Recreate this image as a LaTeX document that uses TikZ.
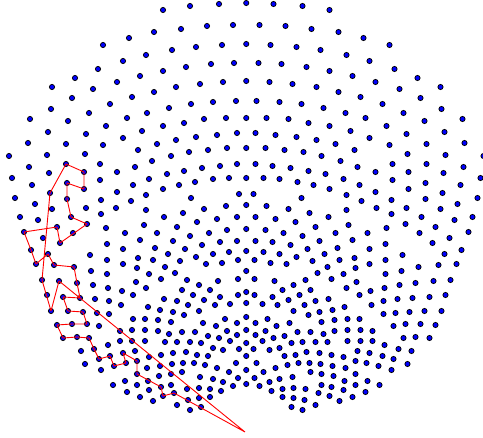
\documentclass[tikz,border=0pt]{standalone}
\begin{document}
\begin{tikzpicture}[x=1pt,y=-1pt]
\tikzset{dot/.style={fill=blue,draw=black,line width=0.75pt},
  tour/.style={draw=red,line width=0.9pt,line join=round}}
\useasboundingbox (0,0) rectangle (483,438);
% axis points
\foreach \y in {3,44,81,118,148,178,205,229,251,271,292,303,317,330,343,356,370,384}
  {\path[dot] (246.25,\y) circle[radius=2.6pt];}
% left half points, mirrored
\foreach \x/\y in {
154/32,129/38,103/45,146/55,123/61,98/69,140/76,75/78,117/82,52/87,93/89,154/92,72/98,132/97,110/104,51/109,89/113,147/113,30/119,68/121,127/118,106/126,48/132,86/134,142/131,123/138,28/143,66/144,103/145,157/144,
163/10,190/6,219/4,181/29,207/26,233/25,172/50,196/47,222/45,163/71,186/67,211/64,234/63,176/87,200/84,223/82,169/108,191/104,213/102,236/101,163/126,184/123,204/119,226/118,176/140,196/137,217/135,237/133,
9/156,47/155,85/154,138/150,29/167,66/164,84/172,49/173,100/164,117/172,135/167,152/161,12/178,67/183,84/189,100/180,32/185,133/185,149/179,117/192,15/198,50/193,67/199,101/200,131/201,146/195,35/204,52/209,86/208,116/208,146/210,20/217,38/220,71/217,101/214,87/224,57/227,24/232,106/228,144/225,43/238,73/233,125/233,157/233,60/243,107/244,140/240,31/250,48/254,90/255,123/249,155/248,36/264,54/265,74/267,107/260,138/258,153/260,91/271,123/264,137/268,107/274,149/274,161/279,42/280,59/281,77/283,93/285,108/288,136/282,146/288,
171/156,189/152,208/150,227/148,167/174,184/171,202/168,220/166,237/164,163/189,179/185,195/182,213/179,229/178,191/198,239/194,204/209,226/206,183/213,164/217,197/222,217/219,237/217,177/227,209/233,227/230,173/241,190/236,220/242,237/241,185/249,202/245,168/254,213/254,229/252,196/257,180/261,206/264,222/263,238/260,165/267,175/273,187/280,199/285,218/281,238/279,182/290,210/290,
47/295,63/297,80/298,95/299,109/301,122/291,133/295,121/305,164/299,193/295,177/301,220/297,238/295,230/304,204/300,
51/311,68/311,83/312,97/313,109/314,148/307,160/310,173/312,188/305,199/311,215/305,184/315,
133/319,145/319,158/320,171/322,203/323,225/319,237/323,
57/325,72/324,87/324,99/326,120/331,132/330,145/330,158/331,169/334,182/332,195/332,216/326,227/331,237/335,208/336,219/338,
63/338,77/337,89/338,120/341,132/341,145/341,165/342,177/342,190/342,201/343,230/341,213/348,223/350,239/349,
81/351,94/349,108/345,135/351,173/353,186/352,197/355,208/356,161/355,149/357,
99/359,110/356,123/353,85/364,114/366,126/363,137/361,147/368,160/366,172/364,183/363,194/363,205/365,217/368,229/372,236/363,
101/370,137/374,148/381,159/376,171/374,182/372,200/377,213/379,223/382,238/378,
113/385,125/381,137/385,149/390,161/387,171/385,187/389,199/388,210/389,221/391,233/386,
127/392,140/397,153/401,163/396,174/393,177/405,188/400,199/398,210/397,190/410,201/407}
  {\path[dot] (\x,\y) circle[radius=2.6pt];
   \path[dot] ({492.5-\x},\y) circle[radius=2.6pt];}
% tour
\coordinate (depot) at (245,432);
\draw[tour] (depot) -- (59,281) -- (51,311) -- (42,280) -- (50,193) -- (66,164) -- (84,172) -- (84,189) -- (67,183) -- (67,199) -- (71,217) -- (87,224) -- (60,243) -- (57,227) -- (24,232) -- (31,250) -- (36,264) -- (48,254) -- (54,265) -- (74,267) -- (77,283) -- (80,298) -- (63,297) -- (68,311) -- (83,312) -- (87,324) -- (72,324) -- (57,325) -- (63,338) -- (77,337) -- (89,338) -- (94,349) -- (99,359) -- (110,356) -- (114,366) -- (126,363) -- (123,353) -- (137,361) -- (137,374) -- (161,387) -- (163,396) -- (174,393) -- (depot);
\end{tikzpicture}
\end{document}
